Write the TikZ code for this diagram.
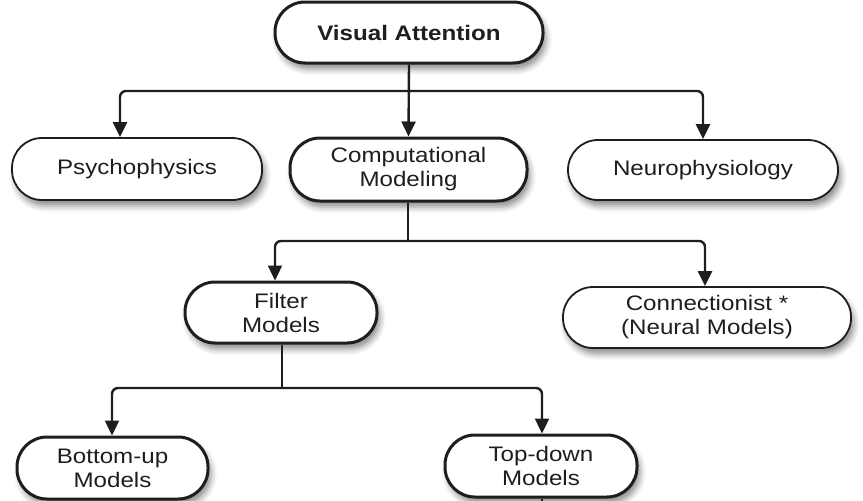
\documentclass[tikz,border=0pt]{standalone}
\usepackage{fontspec}
\setmainfont[FakeStretch=1.15]{Liberation Sans}
\usetikzlibrary{arrows.meta,shadows.blur}
\definecolor{ink}{HTML}{1E1E1E}
\tikzset{
  box/.style={draw=ink, fill=white, rectangle, rounded corners=30pt, inner sep=0pt,
    align=center, text=ink, font=\fontsize{21}{24}\selectfont,
    blur shadow={shadow xshift=3pt, shadow yshift=-6pt, shadow blur radius=6pt, shadow opacity=45}},
  thickbox/.style={box, line width=3pt},
  thinbox/.style={box, line width=1.8pt},
  link/.style={draw=ink, line width=2.4pt, rounded corners=6pt},
  arr/.style={link, -{Triangle[width=14pt,length=15pt]}}
}
\begin{document}
\begin{tikzpicture}[x=1pt,y=-1pt]
\useasboundingbox (0,0) rectangle (863,501);
% nodes
\node[thickbox, minimum width=268pt, minimum height=61pt, font=\fontsize{21}{24}\selectfont\bfseries] (va) at (409,32.5) {Visual Attention};
\node[thinbox, minimum width=250pt, minimum height=62pt] (psy) at (137,169) {Psychophysics};
\node[thickbox, minimum width=237pt, minimum height=63pt] (comp) at (408.5,169.5) {Computational\\Modeling};
\node[thinbox, minimum width=270pt, minimum height=60pt] (neu) at (703,170) {Neurophysiology};
\node[thickbox, minimum width=192pt, minimum height=61pt] (filt) at (281,312.5) {Filter\\Models};
\node[thinbox, minimum width=288pt, minimum height=61pt] (conn) at (707,317.5) {Connectionist *\\(Neural Models)};
\node[thickbox, minimum width=191pt, minimum height=62pt] (bot) at (112.5,468) {Bottom-up\\Models};
\node[thickbox, minimum width=192pt, minimum height=62pt] (top) at (541,466) {Top-down\\Models};
% helper coordinates
\coordinate (j1) at (409,91);
\coordinate (psyx) at (120,0);
\coordinate (neux) at (703,0);
\coordinate (j2) at (408,241);
\coordinate (filtx) at (275,0);
\coordinate (connx) at (705,0);
\coordinate (j3) at (282,388);
\coordinate (botx) at (112,0);
\coordinate (topx) at (542,0);
\coordinate (tail) at (542,510);
% connectors
\draw[arr] (va.south) -- (comp.north);
\draw[arr] (j1) -| (psy.north -| psyx);
\draw[arr] (j1) -| (neu.north -| neux);
\draw[link] (comp.south -| j2) -- (j2);
\draw[arr] (j2) -| (filt.north -| filtx);
\draw[arr] (j2) -| (conn.north -| connx);
\draw[link] (filt.south -| j3) -- (j3);
\draw[arr] (j3) -| (bot.north -| botx);
\draw[arr] (j3) -| (top.north -| topx);
\draw[link] (top.south -| topx) -- (tail);
\end{tikzpicture}
\end{document}
